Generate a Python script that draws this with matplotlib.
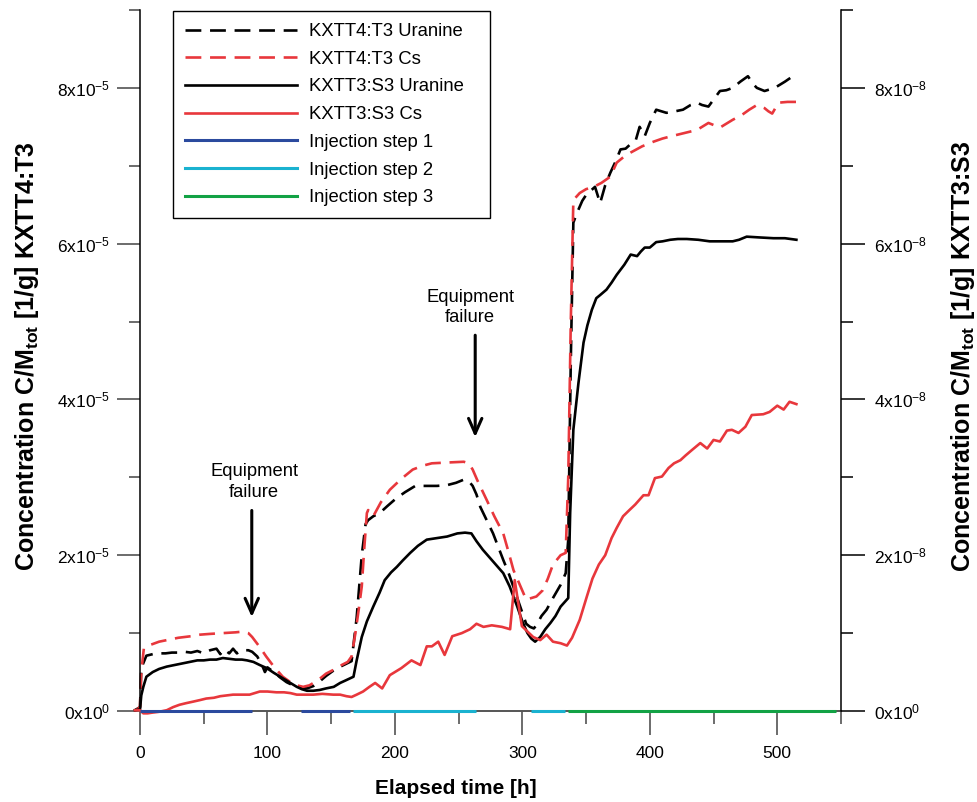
import numpy as np
import matplotlib
matplotlib.use('Agg')
import matplotlib.pyplot as plt
from matplotlib.lines import Line2D

plt.rcParams['font.family'] = ['Liberation Sans', 'DejaVu Sans']
plt.rcParams['mathtext.fontset'] = 'custom'
plt.rcParams['mathtext.rm'] = 'Liberation Sans'
plt.rcParams['mathtext.it'] = 'Liberation Sans:italic'
plt.rcParams['mathtext.bf'] = 'Liberation Sans:bold'
plt.rcParams['mathtext.default'] = 'regular'

# KXTT4:T3 (left axis, values in 1e-5)
t4_uranine_t = [-4, 0, 1, 5, 10, 15, 20, 25, 30, 35, 40, 45, 50, 55, 60, 63, 66, 70, 73, 76, 80, 85, 88,
                92, 96, 98, 100, 105, 110, 115, 120, 125, 131, 136, 141, 146, 151, 156, 161, 166, 170, 174,
                177, 179, 183, 188, 194, 201, 208, 216, 225, 233, 241, 248, 254, 258, 261, 264, 267, 272,
                277, 281, 285, 289, 292, 296, 300, 303, 306, 309, 311, 315, 319, 324, 330, 334, 336, 338,
                340, 343, 347, 351, 355, 357, 361, 365, 369, 373, 377, 381, 385, 389, 392, 396, 400, 405,
                409, 413, 420, 426, 432, 437, 441, 446, 450, 455, 460, 465, 471, 477, 481, 484, 490, 494,
                498, 506, 514]
t4_uranine_v = [0.01, 0.05, 0.55, 0.71, 0.73, 0.74, 0.74, 0.75, 0.75, 0.76, 0.75, 0.77, 0.74, 0.78, 0.80,
                0.73, 0.79, 0.74, 0.80, 0.74, 0.78, 0.78, 0.76,
                0.70, 0.58, 0.50, 0.56, 0.50, 0.43, 0.37, 0.33, 0.30, 0.29, 0.32, 0.38, 0.45, 0.51, 0.56,
                0.60, 0.64, 1.20, 2.00,
                2.40, 2.45, 2.50, 2.54, 2.63, 2.73, 2.81, 2.89, 2.89, 2.89, 2.90, 2.93, 2.97, 2.95, 2.89,
                2.78, 2.62, 2.45,
                2.28, 2.11, 1.94, 1.78, 1.64, 1.45, 1.26, 1.12, 1.08, 1.06, 1.10, 1.22, 1.30, 1.45, 1.62,
                1.77, 2.20, 4.50,
                6.27, 6.40, 6.55, 6.65, 6.70, 6.73, 6.52, 6.75, 6.91, 7.05, 7.21, 7.22, 7.28, 7.33, 7.50,
                7.38, 7.55, 7.72,
                7.70, 7.68, 7.70, 7.72, 7.78, 7.81, 7.78, 7.76, 7.85, 7.96, 7.97, 8.00, 8.08, 8.15, 8.05,
                8.00, 7.96, 7.98,
                8.00, 8.08, 8.17]

t4_cs_t = [-4, 0, 1, 3, 5, 10, 15, 21, 30, 40, 47, 55, 65, 75, 81, 85, 88, 94, 99, 105, 112, 118, 123,
           128, 133, 140, 146, 152, 157, 163, 166, 169, 172, 174, 176, 178, 179, 183, 189, 196, 205, 214,
           222, 229, 241, 254, 258, 261, 265, 272, 278, 285, 289, 293, 298, 303, 311, 316, 320, 324, 330,
           334, 336, 338, 340, 345, 350, 356, 362, 369, 374, 380, 385, 394, 403, 410, 417, 427, 437, 446,
           455, 460, 465, 472, 478, 484, 490, 493, 496, 501, 508, 515]
t4_cs_v = [0.0, 0.05, 0.50, 0.80, 0.83, 0.86, 0.89, 0.91, 0.94, 0.96, 0.98, 0.99, 1.00, 1.01, 1.02, 1.00,
           0.95, 0.82, 0.70, 0.57, 0.44, 0.37, 0.33,
           0.31, 0.33, 0.40, 0.48, 0.53, 0.58, 0.63, 0.70, 1.00, 1.35, 1.60, 2.10, 2.54, 2.58, 2.50, 2.68,
           2.84, 2.98, 3.10,
           3.15, 3.18, 3.19, 3.20, 3.18, 3.10, 2.95, 2.71, 2.50, 2.28, 2.05, 1.81, 1.62, 1.43, 1.47, 1.55,
           1.70, 1.88, 2.00,
           2.03, 3.00, 5.00, 6.56, 6.65, 6.70, 6.73, 6.78, 6.86, 7.04, 7.12, 7.17, 7.25, 7.31, 7.35, 7.38,
           7.42, 7.46, 7.55,
           7.49, 7.54, 7.59, 7.65, 7.72, 7.78, 7.74, 7.70, 7.67, 7.81, 7.82, 7.82]

# KXTT3:S3 (right axis, values in 1e-8)
s3_uranine_t = [-4, 0, 1, 2.6, 5, 10, 15, 21, 30, 39, 45, 50, 55, 60, 65, 70, 75, 80, 84, 89, 94, 99.5,
                105, 112, 117, 123, 127, 131, 136, 141, 146, 152, 157, 161, 167.5, 170, 174, 178, 183, 188,
                192, 197, 201.5, 206, 212, 218, 225, 233, 241, 249, 255, 260, 264, 269, 277, 285, 290, 296,
                300, 304, 307, 310, 314, 318, 322, 326, 330, 336, 337.5, 340, 344, 348, 351, 354.5, 358,
                361, 366, 370, 374, 380, 385, 390, 393, 396, 400, 405, 410, 416, 422, 429, 438, 447, 456,
                465, 470, 476, 486, 497, 506, 515]
s3_uranine_v = [0.01, 0.02, 0.20, 0.31, 0.44, 0.50, 0.54, 0.57, 0.60, 0.63, 0.65, 0.65, 0.66, 0.66, 0.68,
                0.67, 0.66, 0.66, 0.65, 0.63, 0.59, 0.55,
                0.49, 0.42, 0.37, 0.31, 0.28, 0.26, 0.26, 0.27, 0.29, 0.31, 0.36, 0.39, 0.44, 0.65, 0.95,
                1.15, 1.34, 1.52,
                1.68, 1.78, 1.85, 1.93, 2.03, 2.12, 2.20, 2.22, 2.24, 2.28, 2.29, 2.28, 2.18, 2.07, 1.92,
                1.77, 1.60, 1.34,
                1.15, 1.00, 0.93, 0.89, 0.95, 1.05, 1.13, 1.22, 1.34, 1.45, 2.54, 3.61, 4.21, 4.73, 4.95,
                5.15, 5.30,
                5.34, 5.41, 5.50, 5.60, 5.73, 5.86, 5.84, 5.90, 5.95, 5.95, 6.02, 6.03, 6.05, 6.06, 6.06,
                6.05, 6.03, 6.03,
                6.03, 6.05, 6.09, 6.08, 6.07, 6.07, 6.05]

s3_cs_t = [-4, 0, 2.6, 6, 10, 15, 21, 26, 31, 36, 41.6, 47, 52, 58, 63, 68, 73, 80, 86, 90, 94, 100, 107,
           113, 118, 123, 130, 136, 143, 151.6, 157, 162, 166, 170, 175, 180, 184.5, 190, 196, 200, 205,
           209, 213, 220, 225, 229, 234, 239, 245, 252.5, 259, 264, 269.5, 276, 284, 290.4, 294, 299.6,
           304, 308.5, 314, 319, 324, 330, 335, 339, 345, 350.6, 355, 360, 365, 370, 374, 379, 384,
           388.5, 395, 399, 404, 409.5, 414.7, 419, 424, 428, 433, 439.6, 445, 450, 455, 460.5, 464.4,
           469.6, 475, 480, 489, 494, 500, 505, 509.6, 515]
s3_cs_v = [0.01, 0.01, -0.03, -0.03, -0.02, -0.01, 0.01, 0.05, 0.08, 0.10, 0.12, 0.14, 0.16, 0.17, 0.19,
           0.20, 0.21, 0.21, 0.21, 0.23, 0.25, 0.25, 0.24,
           0.24, 0.23, 0.21, 0.21, 0.21, 0.22, 0.21, 0.21, 0.19, 0.18, 0.21, 0.25, 0.31, 0.36, 0.29, 0.46,
           0.50, 0.55,
           0.60, 0.65, 0.59, 0.83, 0.83, 0.89, 0.72, 0.96, 1.00, 1.05, 1.12, 1.08, 1.10, 1.08, 1.05, 1.68,
           1.09,
           1.02, 0.95, 0.91, 0.98, 0.89, 0.87, 0.84, 0.94, 1.17, 1.47, 1.70, 1.88, 2.00, 2.22, 2.35, 2.50,
           2.58,
           2.65, 2.77, 2.77, 2.99, 3.01, 3.12, 3.18, 3.22, 3.28, 3.35, 3.44, 3.37, 3.48, 3.46, 3.60, 3.61,
           3.57, 3.65, 3.80, 3.81, 3.84, 3.92, 3.87, 3.97, 3.94]

# injection periods [h]
inj1_periods = [(0, 88), (126, 165)]
inj2_periods = [(167, 263.5), (307, 333.6)]
inj3_periods = [(336, 546)]

left_ticks = [0, 2, 4, 6, 8]
left_labels = [r'$0x10^{0}$', r'$2x10^{-5}$', r'$4x10^{-5}$', r'$6x10^{-5}$', r'$8x10^{-5}$']
right_labels = [r'$0x10^{0}$', r'$2x10^{-8}$', r'$4x10^{-8}$', r'$6x10^{-8}$', r'$8x10^{-8}$']

RED = '#e8373c'
BLUE = '#2b4a9e'
CYAN = '#1ab2d0'
GREEN = '#12a245'
dash = (0, (6, 3.3))

fig = plt.figure(figsize=(9.78, 8.02), dpi=100)
ax = fig.add_axes([140/978, 91/802, 701/978, 701/802])
ax2 = ax.twinx()

ax.plot(t4_uranine_t, t4_uranine_v, color='black', lw=1.9, ls=dash, clip_on=False)
ax.plot(t4_cs_t, t4_cs_v, color=RED, lw=1.9, ls=dash, clip_on=False)
ax2.plot(s3_uranine_t, s3_uranine_v, color='black', lw=1.9, clip_on=False)
ax2.plot(s3_cs_t, s3_cs_v, color=RED, lw=1.9, clip_on=False)

for periods, col in [(inj1_periods, BLUE), (inj2_periods, CYAN), (inj3_periods, GREEN)]:
	for a, b in periods:
		ax2.plot([a, b], [0, 0], color=col, lw=2.2, clip_on=False, zorder=5, solid_capstyle='butt')

ax.set_xlim(0, 550)
ax.set_ylim(0, 9)
ax2.set_ylim(0, 9)

#spines: left/right black, bottom gray at zero
for s in ['top', 'right']:
	ax.spines[s].set_visible(False)
for s in ['top', 'left', 'bottom']:
	ax2.spines[s].set_visible(False)
ax.spines['left'].set_linewidth(1.1)
ax.spines['bottom'].set_color('#555555')
ax.spines['bottom'].set_linewidth(1.4)
ax2.spines['right'].set_linewidth(1.1)

ax.set_xticks(np.arange(0, 501, 100))
ax.set_xticks(np.arange(50, 551, 100), minor=True)
ax.set_yticks(left_ticks)
ax.set_yticklabels(left_labels)
ax.set_yticks([1, 3, 5, 7, 9], minor=True)
ax2.set_yticks(left_ticks)
ax2.set_yticklabels(right_labels)
ax2.set_yticks([1, 3, 5, 7, 9], minor=True)

ax.tick_params(axis='x', which='major', direction='out', length=17, width=1.1, color='#444444', labelsize=12.5, pad=8)
ax.tick_params(axis='x', which='minor', direction='out', length=9, width=1.1, color='#444444')
ax.tick_params(axis='y', which='major', direction='out', length=16.5, width=1.1, color='#444444', labelsize=12.5, pad=5)
ax.tick_params(axis='y', which='minor', direction='out', length=8, width=1.1, color='#444444')
ax2.tick_params(axis='y', which='major', direction='out', length=17, width=1.1, color='black', labelsize=12.5, pad=7)
ax2.tick_params(axis='y', which='minor', direction='out', length=8.5, width=1.1, color='black')

#axis labels
fig.text(456/978, 1-789/802, 'Elapsed time [h]', fontsize=15, fontweight='bold', ha='center', va='center')
fig.text(27/978, 1-356/802, r'Concentration C/M$_{\mathbf{tot}}$ [1/g] KXTT4:T3', fontsize=18,
	fontweight='bold', rotation=90, ha='center', va='center')
fig.text(963/978, 1-356/802, r'Concentration C/M$_{\mathbf{tot}}$ [1/g] KXTT3:S3', fontsize=18,
	fontweight='bold', rotation=90, ha='center', va='center')

#equipment failure markers
arrow = dict(arrowstyle='->,head_length=0.9,head_width=0.4', lw=2.2, color='black', mutation_scale=12)
ax.annotate('', xy=(87.7, 1.17), xytext=(87.7, 2.61), arrowprops=arrow)
ax.text(89.5, 2.94, 'Equipment\nfailure', fontsize=13.2, ha='center', va='center', linespacing=1.25)
ax.annotate('', xy=(263, 3.48), xytext=(263, 4.86), arrowprops=arrow)
ax.text(259, 5.18, 'Equipment\nfailure', fontsize=13.2, ha='center', va='center', linespacing=1.25)

handles = [
	Line2D([], [], color='black', lw=1.9, ls=dash),
	Line2D([], [], color=RED, lw=1.9, ls=dash),
	Line2D([], [], color='black', lw=1.9),
	Line2D([], [], color=RED, lw=1.9),
	Line2D([], [], color=BLUE, lw=2.2),
	Line2D([], [], color=CYAN, lw=2.2),
	Line2D([], [], color=GREEN, lw=2.2),
]
labels = ['KXTT4:T3 Uranine', 'KXTT4:T3 Cs', 'KXTT3:S3 Uranine', 'KXTT3:S3 Cs',
	'Injection step 1', 'Injection step 2', 'Injection step 3']
leg = ax2.legend(handles, labels, loc='upper left', bbox_to_anchor=(173/978, 1-219/802, 317/978, 208/802),
	bbox_transform=fig.transFigure, mode='expand', fontsize=13.3, frameon=True, fancybox=False,
	edgecolor='black', framealpha=1, borderaxespad=0, handlelength=6.05, handletextpad=0.65,
	labelspacing=0.58, borderpad=0.65)
leg.get_frame().set_linewidth(1.0)

fig.savefig('out.png', dpi=100)
